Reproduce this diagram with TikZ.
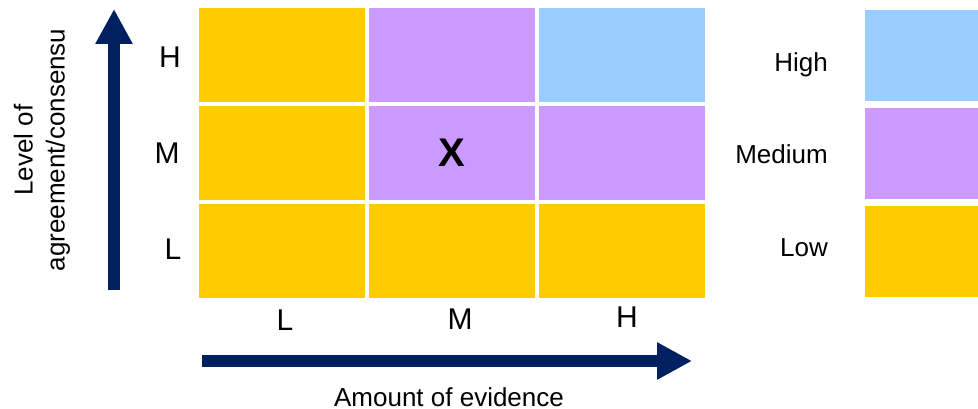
\documentclass[tikz,border=0pt]{standalone}
\usepackage{fontspec}
\setmainfont{Liberation Sans}
\usetikzlibrary{arrows.meta}
\definecolor{lowc}{HTML}{FFCC00}
\definecolor{medc}{HTML}{CC99FF}
\definecolor{highc}{HTML}{99CCFF}
\definecolor{navy}{HTML}{002060}
\begin{document}
\begin{tikzpicture}[x=1pt,y=-1pt,
  cell/.style={rectangle, draw=none, inner sep=0pt, outer sep=0pt, minimum width=166pt, minimum height=94pt, anchor=north west},
  legbox/.style={rectangle, draw=none, inner sep=0pt, outer sep=0pt, minimum width=113pt, minimum height=91pt, anchor=north west},
  lab/.style={font=\fontsize{26}{32}\selectfont, inner sep=0pt, anchor=base},
  axlab/.style={font=\fontsize{30}{36}\selectfont, inner sep=0pt, anchor=base},
  legtext/.style={font=\fontsize{26}{32}\selectfont, inner sep=0pt, anchor=base east},
  axis/.style={draw=navy, line width=12pt, -{Triangle[length=35pt,width=35pt]}}]
\useasboundingbox (0,0) rectangle (978,409);
% grid
\node[cell, fill=lowc] (c11) at (199,8) {};
\node[cell, fill=medc] (c12) at (369,8) {};
\node[cell, fill=highc] (c13) at (539,8) {};
\node[cell, fill=lowc] (c21) at (199,106) {};
\node[cell, fill=medc] (c22) at (369,106) {};
\node[cell, fill=medc] (c23) at (539,106) {};
\node[cell, fill=lowc] (c31) at (199,204) {};
\node[cell, fill=lowc] (c32) at (369,204) {};
\node[cell, fill=lowc] (c33) at (539,204) {};
\node[font=\fontsize{40}{44}\selectfont\bfseries, inner sep=0pt, anchor=base] (x) at (452,167) {X};
% row labels
\node[axlab] (rh) at (170,68) {H};
\node[axlab] (rm) at (167,164) {M};
\node[axlab] (rl) at (173,259) {L};
% column labels
\node[axlab] (cl) at (285,330) {L};
\node[axlab] (cm) at (460,329) {M};
\node[axlab] (ch) at (627,327) {H};
% axes
\coordinate (vb) at (114,290);
\coordinate (vt) at (114,9);
\draw[axis] (vb) -- (vt);
\coordinate (hl) at (202,361);
\coordinate (hr) at (692,361);
\draw[axis] (hl) -- (hr);
\node[lab] (xlab) at (449,406) {Amount of evidence};
\node[font=\fontsize{26}{32}\selectfont, inner sep=0pt, align=center, rotate=90] (ylab) at (42,150) {Level of\\agreement/consensu};
% legend
\node[legtext] (th) at (828,72) {High};
\node[legtext] (tm) at (828,164) {Medium};
\node[legtext] (tl) at (828,256) {Low};
\node[legbox, fill=highc] (lh) at (865,10) {};
\node[legbox, fill=medc] (lm) at (865,108) {};
\node[legbox, fill=lowc] (ll) at (865,206) {};
\end{tikzpicture}
\end{document}
